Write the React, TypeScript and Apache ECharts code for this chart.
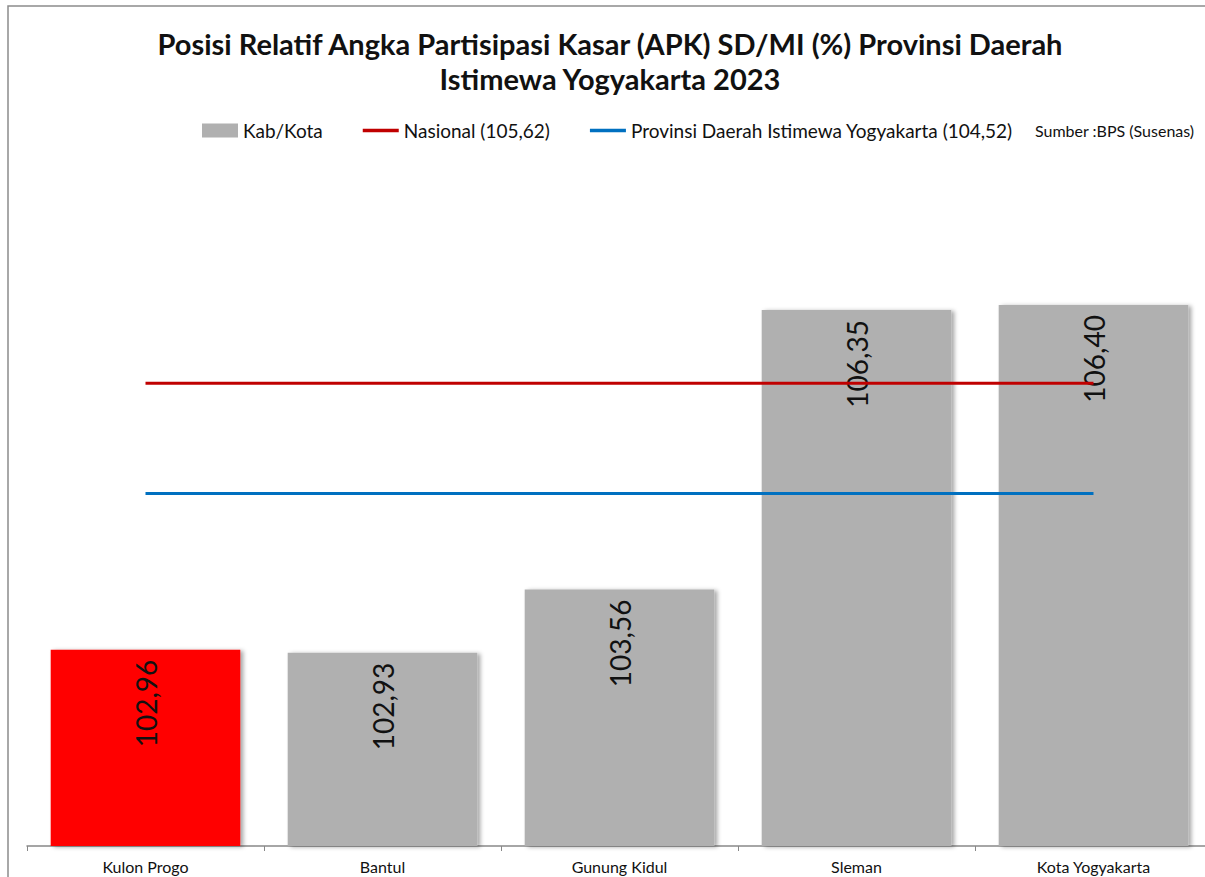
import React, { useEffect, useRef } from "react";
import * as echarts from "echarts";

const categories = ["Kulon Progo", "Bantul", "Gunung Kidul", "Sleman", "Kota Yogyakarta"];
const kabKotaValues = [102.96, 102.93, 103.56, 106.35, 106.4];
const barColors = ["#FF0000", "#B0B0B0", "#B0B0B0", "#B0B0B0", "#B0B0B0"];
const nasionalValue = 105.62;
const provinsiValue = 104.52;
const titleText = "Posisi Relatif Angka Partisipasi Kasar (APK) SD/MI (%) Provinsi Daerah\nIstimewa Yogyakarta 2023";
const seriesNames = ["Kab/Kota", "Nasional (105,62)", "Provinsi Daerah Istimewa Yogyakarta (104,52)"];
const sourceText = "Sumber :BPS (Susenas)";

const FONT = "Lato, 'Open Sans', sans-serif";
const LINE_ICON = "path://M0,0 H40 V4 H0 Z";

export default function App() {
  const ref = useRef<HTMLDivElement>(null);
  useEffect(() => {
    if (!ref.current) return;
    const chart = echarts.init(ref.current, undefined, { renderer: "svg" });
    const fmt = (v: number) => v.toFixed(2).replace(".", ",");
    chart.setOption({
      animation: false,
      backgroundColor: "#ffffff",
      textStyle: { fontFamily: FONT },
      title: {
        text: titleText,
        left: "center",
        top: 21,
        textStyle: {
          fontFamily: FONT,
          fontWeight: "bold",
          fontSize: 29,
          lineHeight: 35,
          color: "#111",
        },
      },
      legend: {
        left: 197,
        top: 116,
        itemGap: 40,
        itemWidth: 36,
        itemHeight: 14,
        textStyle: { fontFamily: FONT, fontSize: 19, color: "#111" },
        data: [
          { name: seriesNames[0], icon: "rect", itemStyle: { color: "#B0B0B0" } },
          { name: seriesNames[1], icon: LINE_ICON, itemStyle: { color: "#C00000" } },
          { name: seriesNames[2], icon: LINE_ICON, itemStyle: { color: "#0070C0" } },
        ],
      },
      graphic: [
        {
          type: "rect",
          shape: { x: 8, y: 6, width: 1400, height: 1000 },
          style: { fill: "none", stroke: "#8c8c8c", lineWidth: 1.5 },
          silent: true,
          z: 100,
        },
        {
          type: "text",
          left: 1035,
          top: 122,
          style: {
            text: sourceText,
            fontFamily: FONT,
            fontSize: 16,
            fill: "#111",
          },
        },
      ],
      grid: { left: 27, right: 8, top: 245, bottom: 31, containLabel: false },
      xAxis: {
        type: "category",
        data: categories,
        axisLine: { lineStyle: { color: "#888", width: 1.5 } },
        axisTick: { show: true, length: 5, lineStyle: { color: "#888" } },
        axisLabel: { fontFamily: FONT, fontSize: 16, color: "#111", margin: 12 },
      },
      yAxis: {
        type: "value",
        min: 101,
        max: 107,
        show: false,
        splitLine: { show: false },
      },
      series: [
        {
          name: seriesNames[0],
          type: "bar",
          barCategoryGap: "20%",
          data: kabKotaValues.map((v, i) => ({ value: v, itemStyle: { color: barColors[i] } })),
          itemStyle: {
            shadowColor: "rgba(0,0,0,0.35)",
            shadowBlur: 4,
            shadowOffsetX: 3,
            shadowOffsetY: 1,
          },
          label: {
            show: true,
            position: "insideTop",
            rotate: 90,
            align: "right",
            verticalAlign: "middle",
            distance: 10,
            fontFamily: FONT,
            fontSize: 28,
            color: "#111",
            formatter: (p: any) => fmt(p.value),
          },
          z: 2,
        },
        {
          name: seriesNames[1],
          type: "line",
          data: categories.map(() => nasionalValue),
          symbol: "none",
          lineStyle: { color: "#C00000", width: 3 },
          itemStyle: { color: "#C00000" },
          z: 5,
        },
        {
          name: seriesNames[2],
          type: "line",
          data: categories.map(() => provinsiValue),
          symbol: "none",
          lineStyle: { color: "#0070C0", width: 3 },
          itemStyle: { color: "#0070C0" },
          z: 5,
        },
      ],
    });
    return () => chart.dispose();
  }, []);
  return (
    <div style={{ position: "fixed", left: 0, top: 0, width: 1205, height: 877, overflow: "hidden", background: "#fff" }}>
      <div ref={ref} style={{ width: 1220, height: 877 }} />
    </div>
  );
}
